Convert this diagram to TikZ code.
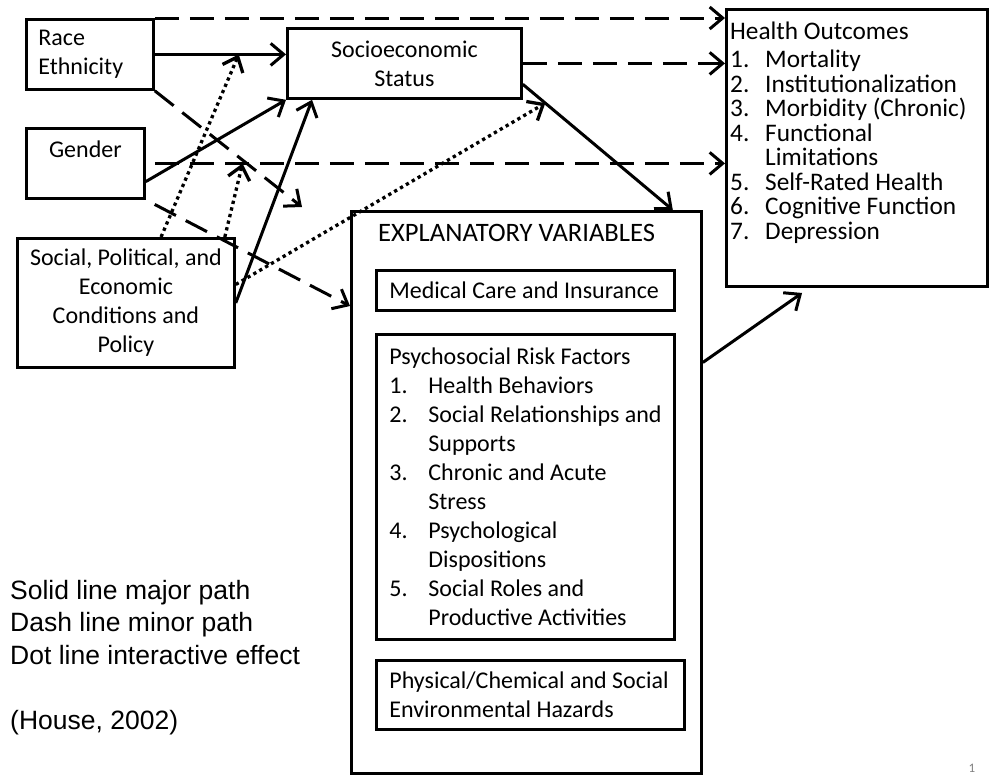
\documentclass[tikz,border=0pt]{standalone}
\usepackage{fontspec}
\setmainfont{Carlito}
\newfontfamily\legendfont{Liberation Sans}
\usepackage{tikz}
\usetikzlibrary{arrows.meta,positioning,calc}
\newcommand{\hnum}[1]{\makebox[35pt][l]{#1}}
\newcommand{\pnum}[1]{\makebox[39pt][l]{#1}}
\newcommand{\plainspace}{\spaceskip=0pt\xspaceskip=0pt\relax}

\begin{document}
\begin{tikzpicture}[
  x=1pt, y=-1pt,
  box/.style={draw, rectangle, line width=2.8pt, inner sep=0pt, anchor=north west, font=\fontsize{24}{29}\selectfont\plainspace, execute at begin node=\plainspace},
  arr/.style={-{Straight Barb[length=13pt,width=22pt]}, line width=3pt},
  minor/.style={arr, dash pattern=on 24pt off 11pt},
  inter/.style={arr, line width=3.3pt, dash pattern=on 3.3pt off 3.5pt},
]
\useasboundingbox (0,0) rectangle (992,774);
% left column
\node[box, minimum width=127pt, minimum height=70pt, text width=103pt] (race) at (25,18) {Race\\Ethnicity};
\node[box, minimum width=118pt, minimum height=70pt, align=center] (gender) at (25,127) {Gender\\~};
\node[box, minimum width=217pt, minimum height=129pt, align=center] (social) at (16,237) {Social, Political, and\\Economic\\Conditions and\\Policy};
\node[box, minimum width=234pt, minimum height=70pt, align=center] (ses) at (286,27) {Socioeconomic\\Status};
% outcomes
\node[box, minimum width=261pt, minimum height=277pt] (ho) at (725,8) {};
\node[anchor=north west, align=left, inner sep=0pt, font=\fontsize{25.3}{24.5}\selectfont] (hotext) at ([shift={(5,14)}]ho.north west)
  {Health Outcomes\\[3.5pt]
   \hnum{1.}Mortality\\
   \hnum{2.}Institutionalization\\
   \hnum{3.}Morbidity (Chronic)\\
   \hnum{4.}Functional\\
   \hspace*{35pt}Limitations\\
   \hnum{5.}Self-Rated Health\\
   \hnum{6.}Cognitive Function\\
   \hnum{7.}Depression};
% explanatory variables
\node[box, minimum width=350pt, minimum height=562pt] (expl) at (350,210) {};
\node[anchor=base west, inner sep=0pt, font=\fontsize{26.6}{31}\selectfont] (expltitle) at ([shift={(28,31)}]expl.north west) {EXPLANATORY VARIABLES};
\node[box, minimum width=298pt, minimum height=40pt, text width=272pt] (med) at ([shift={(25,59)}]expl.north west) {\mbox{Medical Care and Insurance}};
\node[box, minimum width=298pt, minimum height=305pt, text width=272pt] (psy) at ([shift={(25,123)}]expl.north west)
  {Psychosocial Risk Factors\\
   \pnum{1.}Health Behaviors\\
   \pnum{2.}\mbox{Social Relationships and}\\
   \hspace*{39pt}Supports\\
   \pnum{3.}Chronic and Acute\\
   \hspace*{39pt}Stress\\
   \pnum{4.}Psychological\\
   \hspace*{39pt}Dispositions\\
   \pnum{5.}Social Roles and\\
   \hspace*{39pt}Productive Activities};
\node[box, minimum width=308pt, minimum height=69pt, text width=282pt] (haz) at ([shift={(25,449)}]expl.north west) {\mbox{Physical/Chemical and Social}\\Environmental Hazards};
% legend
\node[anchor=base west, align=left, inner sep=0pt, font=\legendfont\fontsize{26.5}{32.5}\selectfont] (legend) at (10,729.5)
  {Solid line major path\\Dash line minor path\\Dot line interactive effect\\[33pt](House, 2002)};
\node[text=gray, font=\fontsize{13}{15}\selectfont] (pagenum) at (972,768) {1};
% helper points
\coordinate (sesout) at (ses.-10);
\coordinate (explin) at ($(expl.north east)+(-30,0)$);
\coordinate (racetip) at (302,207);
% major paths
\draw[arr] (race.east) -- (race.east -| ses.west);
\draw[arr] ($(gender.east)!0.5!(gender.south east)$) -- (ses.south west);
\draw[arr] (social.east) -- ($(ses.south west)!0.11!(ses.south east)$);
\draw[arr] (sesout) -- (explin);
\draw[arr, shorten >=9pt] ($(expl.north east)!0.27!(expl.south east)$) -- ($(ho.south west)!0.32!(ho.south east)$);
% minor paths
\draw[minor] (race.north east) -- (race.north east -| ho.west);
\draw[minor] (ses.east) -- (ses.east -| ho.west);
\draw[minor, shorten <=9pt] (gender.east) -- (gender.east -| ho.west);
\draw[minor] (race.south east) -- (racetip);
\draw[minor, shorten <=10pt] (gender.south east) -- ($(expl.north west)!0.17!(expl.south west)$);
% interactive effects
\draw[inter] ($(social.north west)!0.66!(social.north east)$) -- ($(race.east)!0.64!(race.east -| ses.west)$);
\draw[inter] ($(social.north west)!0.95!(social.north east)$) -- ($(gender.east)!0.167!(gender.east -| ho.west)$);
\draw[inter] ($(social.north east)!0.36!(social.south east)$) -- ($(sesout)!0.15!(explin)$);
\end{tikzpicture}
\end{document}
